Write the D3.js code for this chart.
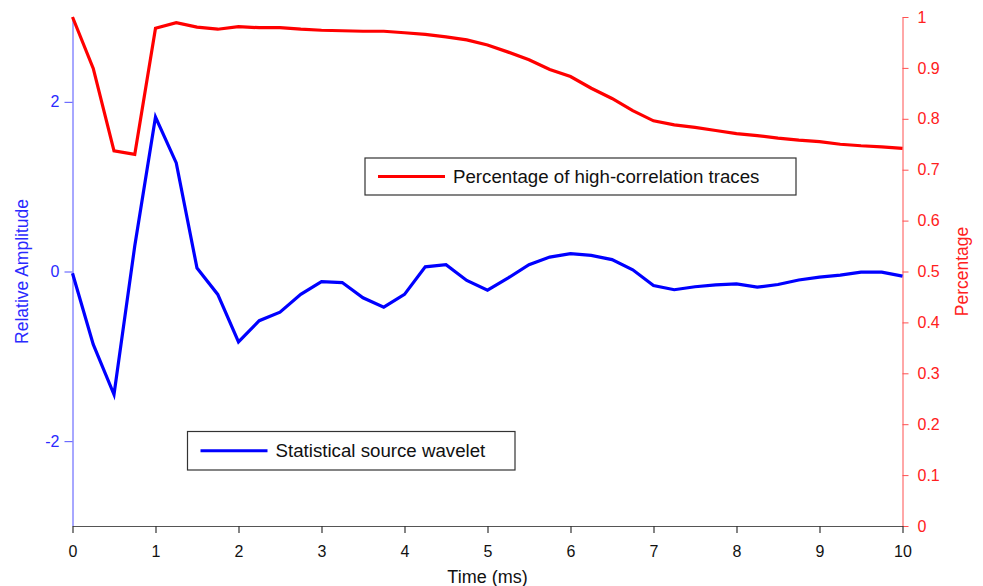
<!DOCTYPE html>
<html>
<head>
<meta charset="utf-8">
<script src="https://cdn.jsdelivr.net/npm/d3@7"></script>
<style>
  html, body { margin: 0; padding: 0; background: #fff; }
  svg { display: block; font-family: "Liberation Sans", Arial, sans-serif; }
</style>
</head>
<body>
<svg id="chart" width="983" height="586"></svg>
<script>
// Sample times (ms), every 0.25 ms
const times = d3.range(0, 10.0001, 0.25).map(t => +t.toFixed(2));

// Statistical source wavelet (relative amplitude)
const wavelet = [
  -0.02, -0.86, -1.45, 0.30, 1.82, 1.28, 0.04, -0.27, -0.83, -0.58,
  -0.48, -0.27, -0.12, -0.13, -0.31, -0.42, -0.27, 0.055, 0.08, -0.106,
  -0.22, -0.075, 0.08, 0.17, 0.21, 0.19, 0.14, 0.02, -0.165, -0.215,
  -0.18, -0.157, -0.145, -0.185, -0.153, -0.10, -0.067, -0.043, -0.008, -0.008,
  -0.055
];

// Percentage of high-correlation traces
const percentage = [
  1.000, 0.899, 0.737, 0.730, 0.978, 0.989, 0.980, 0.976, 0.981, 0.979,
  0.979, 0.976, 0.974, 0.973, 0.972, 0.972, 0.969, 0.966, 0.961, 0.955,
  0.945, 0.931, 0.916, 0.897, 0.883, 0.860, 0.840, 0.816, 0.796, 0.788,
  0.783, 0.777, 0.771, 0.767, 0.762, 0.758, 0.755, 0.750, 0.747, 0.745,
  0.742
];

// Tick values
const xTicks = [0, 1, 2, 3, 4, 5, 6, 7, 8, 9, 10];
const leftTicks = [-2, 0, 2];
const rightTicks = [0, 0.1, 0.2, 0.3, 0.4, 0.5, 0.6, 0.7, 0.8, 0.9, 1];

const labels = {
  x: "Time (ms)",
  left: "Relative Amplitude",
  right: "Percentage",
  wavelet: "Statistical source wavelet",
  percentage: "Percentage of high-correlation traces"
};

const svg = d3.select("#chart");
const plot = { left: 72.5, right: 902.5, top: 17, bottom: 526 };

const x = d3.scaleLinear().domain([0, 10]).range([plot.left, plot.right]);
const yL = d3.scaleLinear().domain([-3, 3]).range([plot.bottom, plot.top]);
const yR = d3.scaleLinear().domain([0, 1]).range([plot.bottom, plot.top]);

const blue = "#0000ff", red = "#ff0000";
const fontSize = 16;
const plain = d => String(d);   // hyphen-minus, no padding

// Left axis (blue)
const gL = svg.append("g")
  .attr("transform", `translate(${plot.left},0)`)
  .call(d3.axisLeft(yL).tickValues(leftTicks).tickSize(8).tickPadding(5).tickSizeOuter(0).tickFormat(plain));
gL.select(".domain").attr("stroke", "#5050ff").attr("stroke-width", 1);
gL.selectAll(".tick line").attr("stroke", "#5050ff");
gL.selectAll(".tick text").attr("fill", "#2a2aff").style("font-size", fontSize + "px")
  .style("font-family", "'Liberation Sans', Arial, sans-serif");

// Right axis (red)
const gR = svg.append("g")
  .attr("transform", `translate(${plot.right},0)`)
  .call(d3.axisRight(yR).tickValues(rightTicks).tickSize(6).tickPadding(9).tickSizeOuter(0).tickFormat(plain));
gR.select(".domain").attr("stroke", "#ff5050").attr("stroke-width", 1);
gR.selectAll(".tick line").attr("stroke", "#ff5050");
gR.selectAll(".tick text").attr("fill", "#ff2020").style("font-size", fontSize + "px")
  .style("font-family", "'Liberation Sans', Arial, sans-serif");

// Bottom axis
const gX = svg.append("g")
  .attr("transform", `translate(0,${plot.bottom})`)
  .call(d3.axisBottom(x).tickValues(xTicks).tickSize(7).tickPadding(13).tickSizeOuter(0).tickFormat(plain));
gX.select(".domain").attr("stroke", "#555").attr("stroke-width", 1.2);
gX.selectAll(".tick line").attr("stroke", "#333").attr("stroke-width", 1.2);
gX.selectAll(".tick text").attr("fill", "#111").style("font-size", fontSize + "px")
  .style("font-family", "'Liberation Sans', Arial, sans-serif");

// Axis titles
svg.append("text")
  .attr("x", x(5)).attr("y", 583)
  .attr("text-anchor", "middle")
  .attr("fill", "#111").style("font-size", "18px")
  .text(labels.x);

svg.append("text")
  .attr("transform", `translate(28,${(plot.top + plot.bottom) / 2}) rotate(-90)`)
  .attr("text-anchor", "middle")
  .attr("fill", "#2a2aff").style("font-size", "17.5px")
  .text(labels.left);

svg.append("text")
  .attr("transform", `translate(968,${(plot.top + plot.bottom) / 2}) rotate(-90)`)
  .attr("text-anchor", "middle")
  .attr("fill", "#ff2020").style("font-size", "17.5px")
  .text(labels.right);

// Series lines
const lineL = d3.line().x((d, i) => x(times[i])).y(d => yL(d));
const lineR = d3.line().x((d, i) => x(times[i])).y(d => yR(d));

svg.append("path").datum(percentage)
  .attr("d", lineR).attr("fill", "none")
  .attr("stroke", red).attr("stroke-width", 3.2).attr("stroke-linejoin", "miter");

svg.append("path").datum(wavelet)
  .attr("d", lineL).attr("fill", "none")
  .attr("stroke", blue).attr("stroke-width", 3.2).attr("stroke-linejoin", "miter");

// Legends
function legend(box, color, text) {
  const g = svg.append("g");
  g.append("rect")
    .attr("x", box.x).attr("y", box.y).attr("width", box.w).attr("height", box.h)
    .attr("fill", "#fff").attr("stroke", "#333").attr("stroke-width", 1.2);
  const cy = box.y + box.h / 2;
  g.append("line")
    .attr("x1", box.x + 13).attr("x2", box.x + 80)
    .attr("y1", cy).attr("y2", cy)
    .attr("stroke", color).attr("stroke-width", 3.2);
  g.append("text")
    .attr("x", box.x + 88).attr("y", cy + 6.5)
    .attr("fill", "#111").style("font-size", "18.7px")
    .text(text);
}
legend({ x: 365, y: 158, w: 431, h: 37 }, red, labels.percentage);
legend({ x: 187.5, y: 431.5, w: 327.5, h: 38.5 }, blue, labels.wavelet);
</script>
</body>
</html>
